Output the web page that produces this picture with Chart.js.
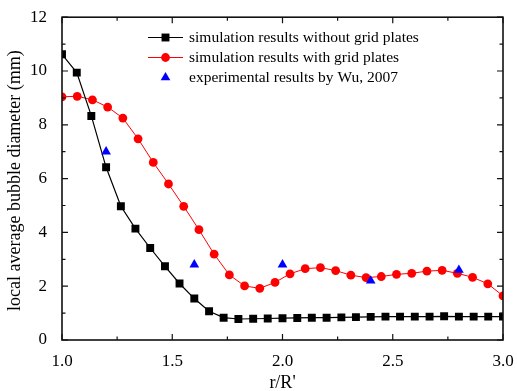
<!DOCTYPE html>
<html>
<head>
<meta charset="utf-8">
<script src="https://cdn.jsdelivr.net/npm/chart.js@4/dist/chart.umd.min.js"></script>
<style>
  body { margin: 0; background: #fff; }
  canvas { display: block; }
</style>
</head>
<body>
<canvas id="myChart" width="517" height="391"></canvas>
<script>
'use strict'

// x positions (r/R') of each series
const xNoGrid = [1.000, 1.067, 1.133, 1.200, 1.267, 1.333, 1.400, 1.467, 1.533, 1.600,
  1.667, 1.733, 1.800, 1.867, 1.933, 2.000, 2.067, 2.133, 2.200, 2.267,
  2.333, 2.400, 2.467, 2.533, 2.600, 2.667, 2.733, 2.800, 2.867, 2.933, 3.000];
const yNoGrid = [10.62, 9.94, 8.33, 6.42, 4.97, 4.14, 3.42, 2.74, 2.10, 1.54,
  1.07, 0.83, 0.78, 0.79, 0.80, 0.81, 0.82, 0.83, 0.83, 0.84,
  0.85, 0.86, 0.87, 0.87, 0.87, 0.87, 0.88, 0.87, 0.87, 0.87, 0.87];

const xGrid = [1.000, 1.069, 1.138, 1.207, 1.276, 1.345, 1.414, 1.483, 1.552, 1.621,
  1.690, 1.759, 1.828, 1.897, 1.966, 2.034, 2.103, 2.172, 2.241, 2.310,
  2.379, 2.448, 2.517, 2.586, 2.655, 2.724, 2.793, 2.862, 2.931, 3.000];
const yGrid = [9.04, 9.06, 8.93, 8.66, 8.25, 7.48, 6.60, 5.80, 4.97, 4.10,
  3.19, 2.42, 2.01, 1.92, 2.14, 2.46, 2.65, 2.69, 2.58, 2.41,
  2.32, 2.36, 2.44, 2.48, 2.56, 2.59, 2.48, 2.33, 2.09, 1.64];

const xExp = [1.2, 1.6, 2.0, 2.4, 2.8];
const yExp = [7.0, 2.8, 2.8, 2.2, 2.6];

const labels = [
  'simulation results without grid plates',
  'simulation results with grid plates',
  'experimental results by Wu, 2007'
];

const xTitle = "r/R'";
const yTitle = 'local average bubble diameter (mm)';

const serif = '"Liberation Serif", "Times New Roman", serif';

function pts(xs, ys) {
  const out = [];
  for (let i = 0; i < xs.length; i++) out.push({ x: xs[i], y: ys[i] });
  return out;
}

function marker(ctx, style, x, y, r, color) {
  ctx.save();
  ctx.fillStyle = color;
  ctx.beginPath();
  if (style === 'rect') {
    const s = Math.SQRT1_2 * r;
    ctx.rect(x - s, y - s, 2 * s, 2 * s);
  } else if (style === 'triangle') {
    ctx.moveTo(x, y - r);
    ctx.lineTo(x + r * 0.866, y + r / 2);
    ctx.lineTo(x - r * 0.866, y + r / 2);
    ctx.closePath();
  } else {
    ctx.arc(x, y, r, 0, Math.PI * 2);
  }
  ctx.fill();
  ctx.restore();
}

// frame, inward ticks, axis titles and legend
const framePlugin = {
  id: 'frame',
  afterDraw(chart) {
    const ctx = chart.ctx;
    const a = chart.chartArea;
    const xs = chart.scales.x, ys = chart.scales.y;
    ctx.save();
    ctx.strokeStyle = '#111';
    ctx.lineWidth = 1.6;
    ctx.strokeRect(a.left, a.top, a.right - a.left, a.bottom - a.top);

    ctx.lineWidth = 1.2;
    ctx.beginPath();
    for (let v = 1; v <= 3.0001; v += 0.25) {
      const px = xs.getPixelForValue(v);
      const len = Math.abs(v * 2 - Math.round(v * 2)) < 1e-6 ? 6 : 3.5;
      ctx.moveTo(px, a.bottom); ctx.lineTo(px, a.bottom - len);
      ctx.moveTo(px, a.top); ctx.lineTo(px, a.top + len);
    }
    for (let v = 0; v <= 12; v += 1) {
      const py = ys.getPixelForValue(v);
      const len = v % 2 === 0 ? 6 : 3.5;
      ctx.moveTo(a.left, py); ctx.lineTo(a.left + len, py);
      ctx.moveTo(a.right, py); ctx.lineTo(a.right - len, py);
    }
    ctx.stroke();

    // axis titles
    ctx.fillStyle = '#000';
    ctx.font = '18px ' + serif;
    ctx.textAlign = 'center';
    ctx.textBaseline = 'middle';
    ctx.fillText(xTitle, (a.left + a.right) / 2, 383);
    ctx.save();
    ctx.translate(15, (a.top + a.bottom) / 2 + 2);
    ctx.rotate(-Math.PI / 2);
    ctx.fillText(yTitle, 0, 0);
    ctx.restore();

    // legend
    ctx.font = '15.5px ' + serif;
    ctx.textAlign = 'left';
    const rows = [37.5, 57.5, 77.5];
    chart.data.datasets.forEach(function (ds, i) {
      const y = rows[i];
      if (ds.showLine) {
        ctx.strokeStyle = ds.borderColor;
        ctx.lineWidth = ds.borderWidth;
        ctx.beginPath();
        ctx.moveTo(148, y); ctx.lineTo(183, y);
        ctx.stroke();
      }
      marker(ctx, ds.pointStyle, 165.5, y, ds.pointRadius, ds.pointBackgroundColor);
      ctx.fillStyle = '#000';
      ctx.fillText(ds.label, 189, y);
    });
    ctx.restore();
  }
};

const ctx1 = document.getElementById('myChart');

new Chart(ctx1, {
  type: 'scatter',
  data: {
    datasets: [{
      label: labels[0],
      data: pts(xNoGrid, yNoGrid),
      showLine: true,
      borderColor: '#000',
      borderWidth: 1.2,
      pointStyle: 'rect',
      pointRadius: 5.6,
      pointBackgroundColor: '#000',
      pointBorderWidth: 0,
      order: 1
    }, {
      label: labels[1],
      data: pts(xGrid, yGrid),
      showLine: true,
      borderColor: '#ff0000',
      borderWidth: 1,
      pointStyle: 'circle',
      pointRadius: 4.4,
      pointBackgroundColor: '#ff0000',
      pointBorderWidth: 0,
      order: 2
    }, {
      label: labels[2],
      data: pts(xExp, yExp),
      showLine: false,
      borderColor: '#0000ff',
      borderWidth: 0,
      pointStyle: 'triangle',
      pointRadius: 5.6,
      pointBackgroundColor: '#0000ff',
      pointBorderWidth: 0,
      order: 0
    }]
  },
  options: {
    responsive: false,
    animation: false,
    events: [],
    layout: { padding: { top: 16, right: 14, bottom: 0, left: 0 } },
    plugins: { legend: { display: false }, tooltip: { enabled: false } },
    scales: {
      x: {
        type: 'linear',
        min: 1, max: 3,
        grid: { display: false },
        border: { display: false },
        afterFit: function (s) { s.height = 51; },
        ticks: {
          stepSize: 0.5,
          padding: 3,
          maxRotation: 0,
          color: '#000',
          font: { family: serif, size: 17 },
          callback: function (v) { return Number(v).toFixed(1); }
        }
      },
      y: {
        min: 0, max: 12,
        grid: { display: false },
        border: { display: false },
        afterFit: function (s) { s.width = 62; },
        ticks: {
          stepSize: 2,
          padding: 7,
          color: '#000',
          font: { family: serif, size: 17 }
        }
      }
    }
  },
  plugins: [framePlugin]
});
</script>
</body>
</html>
